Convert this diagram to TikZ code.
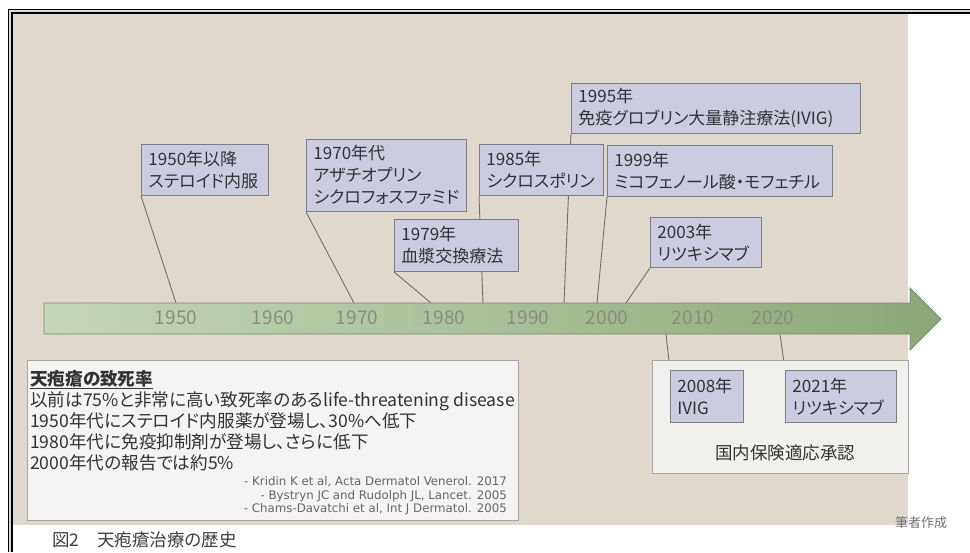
\documentclass[tikz,border=0pt]{standalone}
\usepackage{fontspec}
\setmainfont{Noto Sans CJK JP}[RawFeature=+palt]
\newfontfamily\reffont{DejaVu Sans}
\definecolor{beige}{HTML}{E0D7CD}
\definecolor{boxfill}{HTML}{CBCCE0}
\definecolor{boxline}{HTML}{7E7E88}
\definecolor{txt}{HTML}{333333}
\definecolor{leadc}{HTML}{707070}
\definecolor{yrc}{HTML}{868D80}
\definecolor{arrL}{HTML}{C6D6B8}
\definecolor{arrR}{HTML}{8DA877}
\definecolor{arrline}{HTML}{7C8A72}
\definecolor{notefill}{HTML}{F5F4F2}
\definecolor{grpfill}{HTML}{F2F0EC}
\definecolor{paneline}{HTML}{A6A6A6}
\definecolor{frameg}{HTML}{9A9A9A}
\pgfdeclarelayer{bglayer}
\pgfdeclarelayer{linelayer}
\pgfsetlayers{bglayer,linelayer,main}
\tikzset{
  tbox/.style={draw=boxline, fill=boxfill, line width=0.9pt, anchor=north west,
    align=left, inner xsep=7pt, inner ysep=0pt, text=txt,
    font=\fontsize{17}{22}\selectfont},
  lead/.style={draw=leadc, line width=0.9pt},
  yr/.style={text=yrc, font=\fontsize{19}{19}\selectfont, inner sep=0pt},
  pane/.style={draw=paneline, line width=0.9pt, anchor=north west, inner sep=0pt},
  nline/.style={anchor=west, inner sep=0pt, text=txt, text height=13pt, text depth=0pt,
    font=\fontsize{17.6}{21}\selectfont},
  refline/.style={anchor=east, inner sep=0pt, text=black!60, font=\reffont\fontsize{11.8}{13}\selectfont},
}
\begin{document}
\begin{tikzpicture}[x=1pt,y=-1pt]
\useasboundingbox (0,0) rectangle (970,552);
% frame and background
\begin{pgfonlayer}{bglayer}
  \fill[white] (0,0) rectangle (970,552);
  \fill[beige] (13,14) rectangle (908,525);
  \fill[frameg!40] (8,9) rectangle (970,13);
  \fill[frameg!40] (8,9) rectangle (12,552);
  \draw[black, line width=1.1pt] (8.5,552) -- (8.5,9.5) -- (970,9.5);
  \draw[black, line width=1.1pt] (12,552) -- (12,13) -- (970,13);
\end{pgfonlayer}
% timeline arrow
\shade[left color=arrL, right color=arrR, draw=arrline, line width=0.8pt]
  (44,303) -- (910,303) -- (910,288) -- (941,319) -- (910,350) -- (910,334) -- (44,334) -- cycle;
\node[yr] (y1950) at (176,318) {1950};
\node[yr] (y1960) at (273,318) {1960};
\node[yr] (y1970) at (357,318) {1970};
\node[yr] (y1980) at (444,318) {1980};
\node[yr] (y1990) at (528,318) {1990};
\node[yr] (y2000) at (607,318) {2000};
\node[yr] (y2010) at (693,318) {2010};
\node[yr] (y2020) at (773,318) {2020};
% anchor points on the arrow
\coordinate (t1950) at (176,303);
\coordinate (t1970) at (354,303);
\coordinate (t1979) at (431,303);
\coordinate (t1985) at (483,303);
\coordinate (t1995) at (564,303);
\coordinate (t1999) at (597,303);
\coordinate (t2003) at (626,303);
\coordinate (t2008) at (666,334);
\coordinate (t2021) at (780,334);
% boxes above
\node[tbox, minimum width=127pt, minimum height=51pt, text width=113pt] (b1950) at (141,144) {1950年以降\\ステロイド内服};
\node[tbox, minimum width=160pt, minimum height=72pt, text width=146pt] (b1970) at (306,139) {1970年代\\アザチオプリン\\シクロフォスファミド};
\node[tbox, minimum width=124pt, minimum height=52pt, text width=110pt] (b1979) at (394,219) {1979年\\血漿交換療法};
\node[tbox, minimum width=124pt, minimum height=51pt, text width=110pt] (b1985) at (479,144) {1985年\\シクロスポリン};
\node[tbox, minimum width=289pt, minimum height=50pt, text width=275pt] (b1995) at (571,83) {1995年\\免疫グロブリン大量静注療法(IVIG)};
\node[tbox, minimum width=225pt, minimum height=51pt, text width=211pt] (b1999) at (607,145) {1999年\\ミコフェノール酸・モフェチル};
\node[tbox, minimum width=111pt, minimum height=50pt, text width=97pt] (b2003) at (650,217) {2003年\\リツキシマブ};
% right group
\node[pane, fill=grpfill, minimum width=256pt, minimum height=113pt] (grp) at (652,360) {};
\node[tbox, minimum width=73pt, minimum height=52pt, text width=59pt] (b2008) at (670,370) {2008年\\IVIG};
\node[tbox, minimum width=111pt, minimum height=52pt, text width=97pt] (b2021) at (785,370) {2021年\\リツキシマブ};
\node[inner sep=0pt, text=txt, font=\fontsize{17.5}{17.5}\selectfont] (grplabel) at (785,453) {国内保険適応承認};
% leader lines
\begin{pgfonlayer}{linelayer}
  \draw[lead] (b1950.south west) -- (t1950);
  \draw[lead] (b1970.south west) -- (t1970);
  \draw[lead] (b1979.south west) -- (t1979);
  \draw[lead] (b1985.south west) -- (t1985);
  \draw[lead] (b1995.south west) -- (t1995);
  \draw[lead] (b1999.south west) -- (t1999);
  \draw[lead] (b2003.south west) -- (t2003);
  \draw[lead] (b2008.north west) -- (t2008);
  \draw[lead] (b2021.north west) -- (t2021);
\end{pgfonlayer}
% note box
\node[pane, fill=notefill, minimum width=491pt, minimum height=160pt] (note) at (27,360) {};
\node[nline] (n0) at (30,379) {\underline{\textbf{天疱瘡の致死率}}};
\node[nline] (n1) at (30,400) {以前は75\%と非常に高い致死率のあるlife-threatening disease};
\node[nline] (n2) at (30,421) {1950年代にステロイド内服薬が登場し、30\%へ低下};
\node[nline] (n3) at (30,442) {1980年代に免疫抑制剤が登場し、さらに低下};
\node[nline] (n4) at (30,463) {2000年代の報告では約5\%};
\node[refline] (r1) at (507,482) {- Kridin K et al, Acta Dermatol Venerol. 2017};
\node[refline] (r2) at (507,496) {- Bystryn JC and Rudolph JL, Lancet. 2005};
\node[refline] (r3) at (507,509) {- Chams-Davatchi et al, Int J Dermatol. 2005};
% captions
\node[anchor=west, inner sep=0pt, text=black!75, font=\fontsize{17.5}{17.5}\selectfont] (cap) at (52,540) {図2\hspace{18pt}天疱瘡治療の歴史};
\node[anchor=west, inner sep=0pt, text=black!55, font=\fontsize{13}{13}\selectfont] (author) at (895,523) {筆者作成};
\end{tikzpicture}
\end{document}
